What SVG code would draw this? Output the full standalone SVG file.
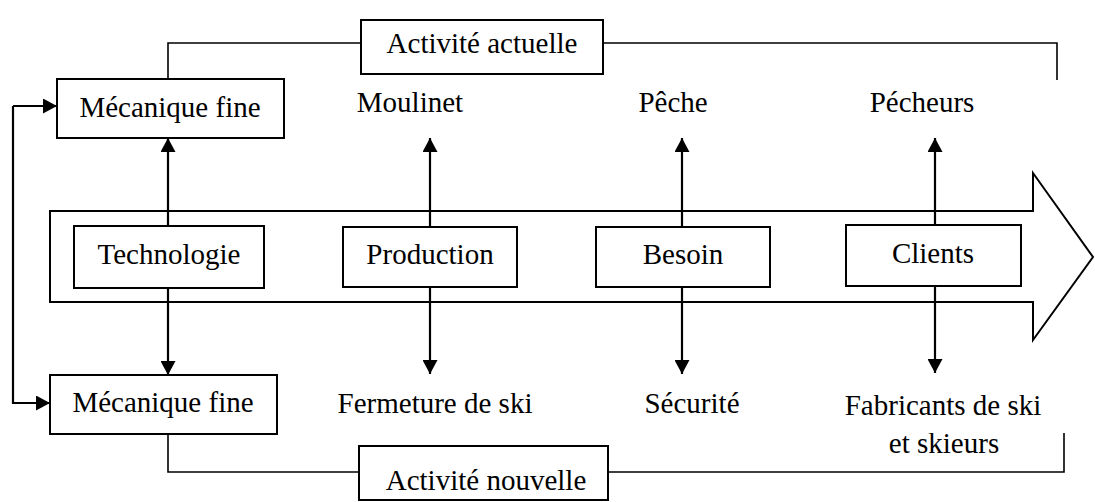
<svg xmlns="http://www.w3.org/2000/svg" width="1095" height="502" viewBox="0 0 1095 502">
  <style>
    .box { fill: #fff; stroke: #000; stroke-width: 2; }
    .lbl { font-size: 29px; fill: #000; text-anchor: middle; }
    .wire { fill: none; stroke: #000; stroke-width: 1.6; }
    .arr { fill: none; stroke: #000; stroke-width: 2.2; marker-end: url(#head); }
  </style>
  <defs>
    <marker id="head" viewBox="0 0 14 15" refX="14" refY="7.5" markerWidth="14" markerHeight="15" markerUnits="userSpaceOnUse" orient="auto">
      <path d="M0,0 L14,7.5 L0,15 Z" fill="#000"/>
    </marker>
  </defs>

  <!-- large arrow carrying the chain -->
  <g id="flow-arrow">
    <polygon points="50,211 1033,211 1033,173 1093,257 1033,340 1033,302 50,302" fill="#fff" stroke="#000" stroke-width="2" stroke-linejoin="miter"/>
  </g>

  <g id="connectors">
    <!-- current activity bracket -->
    <polyline class="wire" points="168,79 168,43 361,43"/>
    <polyline class="wire" points="603,43 1057,43 1057,80"/>
    <!-- new activity bracket -->
    <polyline class="wire" points="168,434 168,472 359,472"/>
    <polyline class="wire" points="608,472 1064,472 1064,433"/>
    <!-- feedback loop on the left -->
    <polyline class="arr" points="13,106 13,403 50,403"/>
    <line class="arr" x1="13" y1="106" x2="57" y2="106"/>
    <!-- upward arrows -->
    <line class="arr" x1="168" y1="226" x2="168" y2="138"/>
    <line class="arr" x1="430" y1="227" x2="430" y2="138"/>
    <line class="arr" x1="682" y1="227" x2="682" y2="138"/>
    <line class="arr" x1="935" y1="225" x2="935" y2="138"/>
    <!-- downward arrows -->
    <line class="arr" x1="168" y1="288" x2="168" y2="375"/>
    <line class="arr" x1="430" y1="287" x2="430" y2="374"/>
    <line class="arr" x1="682" y1="287" x2="682" y2="374"/>
    <line class="arr" x1="935" y1="286" x2="935" y2="373"/>
  </g>

  <g font-family="Liberation Serif, DejaVu Serif, serif">
  <g id="activite-actuelle">
    <rect class="box" x="361" y="20" width="242" height="54"/>
    <text class="lbl" x="482" y="53">Activité actuelle</text>
  </g>
  <g id="activite-nouvelle">
    <rect class="box" x="359" y="446" width="249" height="54"/>
    <text class="lbl" x="486" y="490">Activité nouvelle</text>
  </g>

  <g id="mecanique-actuelle">
    <rect class="box" x="57" y="79" width="227" height="59"/>
    <text class="lbl" x="170" y="117">Mécanique fine</text>
  </g>
  <g id="mecanique-nouvelle">
    <rect class="box" x="50" y="375" width="227" height="59"/>
    <text class="lbl" x="163" y="412">Mécanique fine</text>
  </g>

  <g id="technologie">
    <rect class="box" x="74" y="226" width="190" height="62"/>
    <text class="lbl" x="169" y="264">Technologie</text>
  </g>
  <g id="production">
    <rect class="box" x="343" y="227" width="174" height="60"/>
    <text class="lbl" x="430" y="264">Production</text>
  </g>
  <g id="besoin">
    <rect class="box" x="596" y="227" width="174" height="60"/>
    <text class="lbl" x="683" y="264">Besoin</text>
  </g>
  <g id="clients">
    <rect class="box" x="846" y="225" width="175" height="61"/>
    <text class="lbl" x="933" y="263">Clients</text>
  </g>

  <g id="moulinet"><text class="lbl" x="410" y="112">Moulinet</text></g>
  <g id="peche"><text class="lbl" x="673" y="112">Pêche</text></g>
  <g id="pecheurs"><text class="lbl" x="922" y="112">Pécheurs</text></g>
  <g id="fermeture"><text class="lbl" x="435" y="413">Fermeture de ski</text></g>
  <g id="securite"><text class="lbl" x="692" y="413">Sécurité</text></g>
  <g id="fabricants">
    <text class="lbl" x="943" y="415">Fabricants de ski</text>
    <text class="lbl" x="944" y="453">et skieurs</text>
  </g>
  </g>
</svg>
